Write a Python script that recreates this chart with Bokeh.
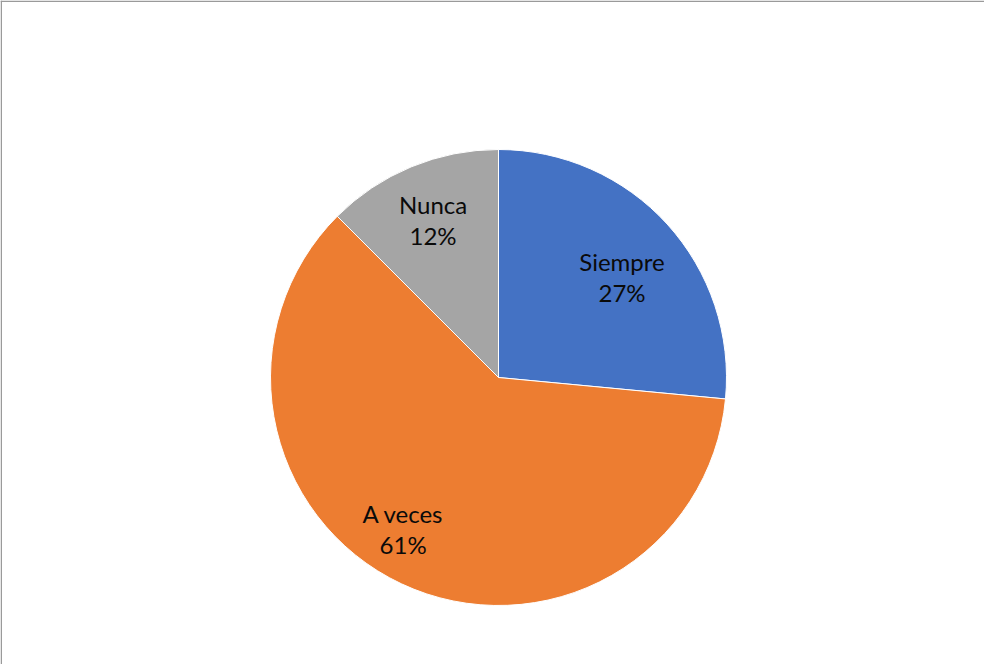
import math
from bokeh.plotting import figure
from bokeh.models import Range1d, Span, ColumnDataSource
from bokeh.core.properties import value
from bokeh.embed import file_html
from bokeh.resources import INLINE

categories = ["Siempre", "A veces", "Nunca"]
values = [26.5, 61.0, 12.5]
pct_labels = ["27%", "61%", "12%"]
colors = ["#4472C4", "#ED7D31", "#A5A5A5"]
label_radius_frac = [0.70, 0.785, 0.75]
label_angle_shift_deg = [-3.0, -7.0, 0.0]

W, H = 984, 664
cx, cy, R = 498, 287, 228

total = sum(values)
starts, ends, lx, ly = [], [], [], []
cum = 0.0
for v, f, s in zip(values, label_radius_frac, label_angle_shift_deg):
    a0 = math.pi / 2 - 2 * math.pi * cum / total
    cum += v
    a1 = math.pi / 2 - 2 * math.pi * cum / total
    starts.append(a0)
    ends.append(a1)
    mid = (a0 + a1) / 2 + math.radians(s)
    lx.append(cx + f * R * math.cos(mid))
    ly.append(cy + f * R * math.sin(mid))

src = ColumnDataSource(dict(cat=categories, val=values, pct=pct_labels, color=colors,
                            start=starts, end=ends, lx=lx, ly=ly))

p = figure(width=W, height=H, output_backend="svg", toolbar_location=None,
           x_axis_type=None, y_axis_type=None, min_border=0,
           x_range=Range1d(0, W), y_range=Range1d(0, H))
p.grid.visible = False
p.outline_line_color = None
p.background_fill_color = "white"
p.border_fill_color = "white"

p.wedge(x=cx, y=cy, radius=R, start_angle="start", end_angle="end", direction="clock",
        fill_color="color", line_color="white", line_width=1, source=src)

p.text(x="lx", y="ly", text="cat", source=src, text_align="center", text_baseline="middle",
       y_offset=-15, text_font=value("Lato"), text_font_size="24px", text_color="#0a0a0a")
p.text(x="lx", y="ly", text="pct", source=src, text_align="center", text_baseline="middle",
       y_offset=16, text_font=value("Lato"), text_font_size="24px", text_color="#0a0a0a")

p.add_layout(Span(location=0.75, dimension="height", line_color="#9a9a9a", line_width=1.5))
p.add_layout(Span(location=H - 0.75, dimension="width", line_color="#9a9a9a", line_width=1.5))

open("out.html", "w").write(file_html(p, INLINE))
